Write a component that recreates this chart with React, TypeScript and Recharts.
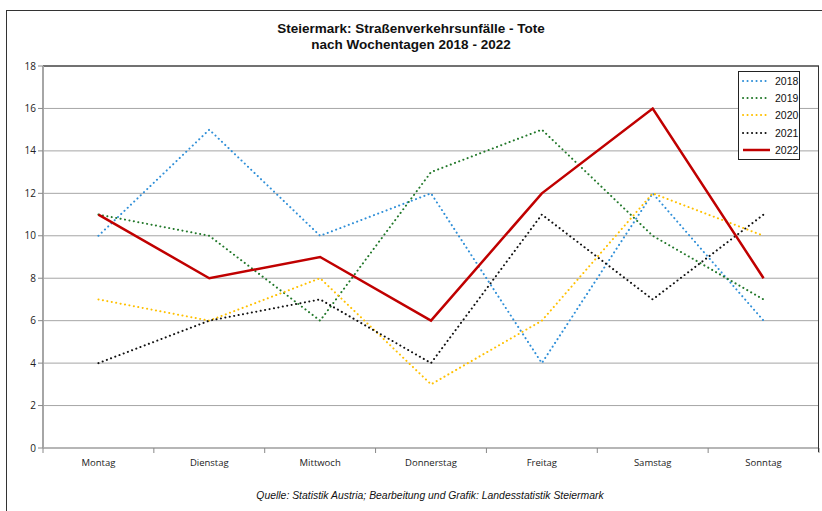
import React from "react";
import {
  LineChart,
  Line,
  XAxis,
  YAxis,
  CartesianGrid,
  ReferenceLine,
} from "recharts";

const days = ["Montag", "Dienstag", "Mittwoch", "Donnerstag", "Freitag", "Samstag", "Sonntag"];
const y2018 = [10, 15, 10, 12, 4, 12, 6];
const y2019 = [11, 10, 6, 13, 15, 10, 7];
const y2020 = [7, 6, 8, 3, 6, 12, 10];
const y2021 = [4, 6, 7, 4, 11, 7, 11];
const y2022 = [11, 8, 9, 6, 12, 16, 8];
const yTicks = [0, 2, 4, 6, 8, 10, 12, 14, 16, 18];

const series = [
  { key: "2018", color: "#2f8fd8", dotted: true },
  { key: "2019", color: "#22782a", dotted: true },
  { key: "2020", color: "#ffc000", dotted: true },
  { key: "2021", color: "#111111", dotted: true },
  { key: "2022", color: "#c00000", dotted: false },
];

const data = days.map((day, i) => ({
  day,
  "2018": y2018[i],
  "2019": y2019[i],
  "2020": y2020[i],
  "2021": y2021[i],
  "2022": y2022[i],
}));

const PLOT_LEFT = 43;
const PLOT_RIGHT = 819;
const PLOT_TOP = 66;
const PLOT_BOTTOM = 448;
const BAND = (PLOT_RIGHT - PLOT_LEFT) / days.length;
const tickFont = "'Open Sans', 'DejaVu Sans', sans-serif";

function DayTick(props: any) {
  const { x, y, payload, index } = props;
  const left = x - BAND / 2;
  return (
    <g>
      <line x1={left} y1={y - 8} x2={left} y2={y - 3} stroke="#888" />
      {index === days.length - 1 && (
        <line x1={x + BAND / 2} y1={y - 8} x2={x + BAND / 2} y2={y - 3} stroke="#888" />
      )}
      <text x={x} y={y + 10} textAnchor="middle" fontSize={9.5} fill="#222" fontFamily={tickFont}>
        {payload.value}
      </text>
    </g>
  );
}

function LegendBox() {
  return (
    <div
      style={{
        position: "absolute",
        left: 738,
        top: 71,
        border: "1px solid #222",
        background: "#fff",
        width: 60,
        padding: "0 0 1px 0",
        fontFamily: "'Liberation Sans', Arial, sans-serif",
        fontSize: 10.5,
        color: "#111",
      }}
    >
      {series.map((s) => (
        <div key={s.key} style={{ display: "flex", alignItems: "center", height: 17.3 }}>
          <svg width={34} height={8}>
            <line
              x1={4}
              y1={4}
              x2={31}
              y2={4}
              stroke={s.color}
              strokeWidth={s.dotted ? 2 : 2.5}
              strokeDasharray={s.dotted ? "0.1 4.4" : undefined}
              strokeLinecap={s.dotted ? "round" : "butt"}
            />
          </svg>
          <span style={{ marginLeft: 2 }}>{s.key}</span>
        </div>
      ))}
    </div>
  );
}

export default function App() {
  return (
    <div style={{ position: "absolute", left: 0, top: 0, width: 822, height: 511, background: "#fff", overflow: "hidden" }}>
      <div
        style={{
          position: "absolute",
          left: 6,
          top: 10,
          width: 830,
          height: 520,
          border: "1px solid #333",
        }}
      />
      <div
        style={{
          position: "absolute",
          left: 0,
          width: 822,
          top: 21,
          textAlign: "center",
          fontFamily: "'Liberation Sans Narrow', 'Liberation Sans', Arial, sans-serif",
          fontWeight: "bold",
          fontSize: 13.5,
          lineHeight: "16px",
          color: "#111",
        }}
      >
        Steiermark: Straßenverkehrsunfälle - Tote
        <br />
        nach Wochentagen 2018 - 2022
      </div>
      <div style={{ position: "absolute", left: 0, top: 0 }}>
        <LineChart
          width={822}
          height={511}
          data={data}
          margin={{ top: PLOT_TOP, right: 822 - PLOT_RIGHT, bottom: 511 - PLOT_BOTTOM - 30, left: 0 }}
        >
          <CartesianGrid vertical={false} stroke="#a6a6a6" strokeWidth={1} />
          <XAxis
            dataKey="day"
            axisLine={{ stroke: "#999" }}
            tickLine={false}
            tick={<DayTick />}
            height={30}
            interval={0}
            padding={{ left: BAND / 2, right: BAND / 2 }}
          />
          <YAxis
            domain={[0, 18]}
            ticks={yTicks}
            width={PLOT_LEFT}
            axisLine={{ stroke: "#a6a6a6", strokeWidth: 2 }}
            tickLine={{ stroke: "#888" }}
            tickSize={5}
            tick={{ fontSize: 10, fill: "#222", fontFamily: tickFont }}
          />
          <ReferenceLine y={18} stroke="#111" strokeWidth={1} />
          {series.map((s) => (
            <Line
              key={s.key}
              dataKey={s.key}
              type="linear"
              stroke={s.color}
              strokeWidth={s.dotted ? 2 : 2.5}
              strokeDasharray={s.dotted ? "0.1 4.4" : undefined}
              strokeLinecap={s.dotted ? "round" : "butt"}
              dot={false}
              activeDot={false}
              isAnimationActive={false}
            />
          ))}
        </LineChart>
      </div>
      <div
        style={{
          position: "absolute",
          left: PLOT_RIGHT - 1,
          top: PLOT_TOP,
          width: 0,
          height: PLOT_BOTTOM - PLOT_TOP + 4,
          borderLeft: "1px solid #333",
        }}
      />
      <LegendBox />
      <div
        style={{
          position: "absolute",
          left: 0,
          width: 860,
          top: 490,
          textAlign: "center",
          fontFamily: "'Liberation Sans Narrow', 'Liberation Sans', Arial, sans-serif",
          fontStyle: "italic",
          fontSize: 10.4,
          color: "#111",
        }}
      >
        Quelle: Statistik Austria; Bearbeitung und Grafik: Landesstatistik Steiermark
      </div>
    </div>
  );
}
